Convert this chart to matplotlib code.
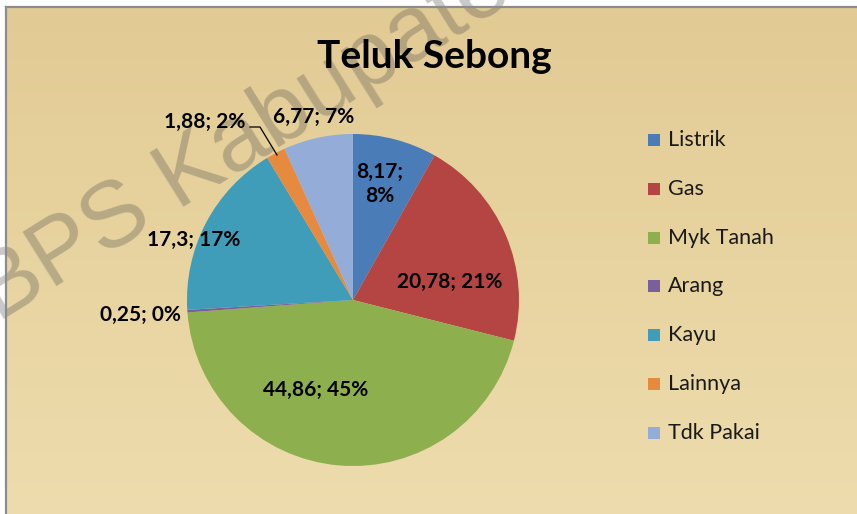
import numpy as np
import matplotlib
matplotlib.use("Agg")
import matplotlib.pyplot as plt
from matplotlib.patches import Rectangle
from matplotlib.colors import LinearSegmentedColormap

# ---- data ----
title = "Teluk Sebong"
categories = ["Listrik", "Gas", "Myk Tanah", "Arang", "Kayu", "Lainnya", "Tdk Pakai"]
values = [8.17, 20.78, 44.86, 0.25, 17.3, 1.88, 6.77]
percent_labels = ["8%", "21%", "45%", "0%", "17%", "2%", "7%"]
value_labels = ["8,17", "20,78", "44,86", "0,25", "17,3", "1,88", "6,77"]
watermark = "BPS Kabupaten"

# ---- style ----
colors = ["#4A7CB8", "#B44542", "#8DAF4E", "#7B5E9E", "#3F9DB9", "#E58A3F", "#93ACD8"]
W, H = 857, 514
DPI = 100
FONT = "Lato"

fig = plt.figure(figsize=(W / DPI, H / DPI), dpi=DPI)
fig.patch.set_facecolor("white")

def px_rect(x0, y0, x1, y1):
    # pixel box (top-left origin) -> figure fraction [l, b, w, h]
    return [x0 / W, 1 - y1 / H, (x1 - x0) / W, (y1 - y0) / H]

# background parchment with gentle gradient
bg = fig.add_axes(px_rect(6, 7, W + 2, H + 2))
grad = np.linspace(0, 1, 256).reshape(-1, 1)
cmap = LinearSegmentedColormap.from_list("parch", ["#E2CA94", "#E8D4A0", "#EEDCAE"])
bg.imshow(grad, aspect="auto", cmap=cmap, extent=[0, 1, 0, 1], origin="upper")
bg.set_xlim(0, 1)
bg.set_ylim(0, 1)
bg.axis("off")

# frame line (top / left)
fig.add_artist(plt.Line2D([6 / W, 6 / W], [0, 1 - 7 / H], transform=fig.transFigure,
                          color="#8C8C8C", lw=1.6))
fig.add_artist(plt.Line2D([6 / W, 1], [1 - 7 / H, 1 - 7 / H], transform=fig.transFigure,
                          color="#8C8C8C", lw=1.6))

# watermark
fig.text(-2 / W, 1 - 323 / H, watermark, fontsize=67, family="Liberation Sans",
         color="#4A4A4A", alpha=0.3, rotation=32, rotation_mode="anchor",
         ha="left", va="baseline", zorder=1)

# title
fig.text(434 / W, 1 - 57 / H, title, fontsize=28, fontweight="bold", family=FONT,
         ha="center", va="center", color="black", zorder=5)

# pie
cx, cy, r = 353, 300, 166
ax = fig.add_axes(px_rect(cx - r, cy - r, cx + r, cy + r))
ax.set_zorder(3)
ax.patch.set_alpha(0)
wedges, _ = ax.pie(values, colors=colors, startangle=90, counterclock=False,
                   radius=1, wedgeprops=dict(linewidth=0))
ax.set_xlim(-1, 1)
ax.set_ylim(-1, 1)
ax.set_aspect("equal")
ax.axis("off")

# label positions (pixel centres)
label_pos = [(380, 184), (450, 282), (316, 390), (140, 315), (194, 240), (205, 122), (314, 117)]
for i, (v, p) in enumerate(zip(value_labels, percent_labels)):
    txt = f"{v};\n{p}" if i == 0 else f"{v}; {p}"
    lx, ly = label_pos[i]
    ax.text((lx - cx) / r, (cy - ly) / r, txt, fontsize=15, fontweight="bold",
            family=FONT, ha="center", va="center", color="black",
            linespacing=1.2, zorder=6)

# leader line for small slice (Lainnya)
lead_x = [250, 260, 277]
lead_y = [127, 127, 155]
ax.plot([(x - cx) / r for x in lead_x], [(cy - y) / r for y in lead_y],
        color="black", lw=0.9, zorder=6, clip_on=False)

# legend (manual)
leg_y0, leg_dy = 140, 48.8
for i, (cat, col) in enumerate(zip(categories, colors)):
    y = leg_y0 + i * leg_dy
    fig.add_artist(Rectangle((648 / W, 1 - (y + 6) / H), 12 / W, 12 / H,
                             transform=fig.transFigure, facecolor=col,
                             edgecolor="none", zorder=5))
    fig.text(668 / W, 1 - y / H, cat, fontsize=15.5, family=FONT,
             ha="left", va="center", color="#1A1A1A", zorder=5)

fig.savefig("out.png", dpi=DPI)
